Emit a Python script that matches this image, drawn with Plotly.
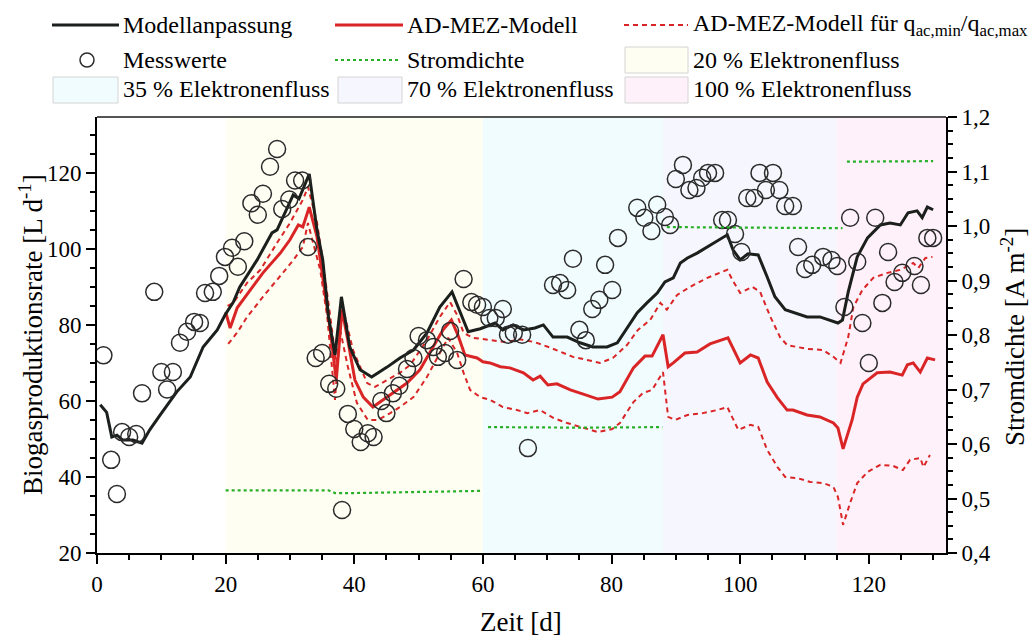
import plotly.graph_objects as go

# ---------------- data ----------------
# measured biogas production rate (Messwerte)
mess_t = [1, 2.2, 3.1, 3.9, 5, 6.1, 7, 8.9, 10, 10.9, 11.8, 12.9, 14, 15.1, 16, 16.8, 18, 19,
          19.9, 21, 21.9, 22.9, 24, 25, 25.8, 26.9, 28, 28.8, 29.9, 30.8, 31.9, 32.8, 34, 35,
          36.1, 37.2, 38.1, 39, 40, 41, 42.1, 43, 44.2, 45, 46, 47, 48.2, 49.2, 50, 51.3, 52.3,
          53, 54.1, 54.9, 56, 57, 58.2, 59.1, 60, 61, 62, 63.1, 63.9, 64.8, 66.1, 67, 70.9, 72,
          73.1, 74, 75, 76, 77, 78.1, 79, 80.1, 81, 84, 85.1, 86.2, 87.1, 88.3, 89.1, 90, 91.1,
          92.1, 93.2, 94.1, 95, 96.1, 97.2, 98.1, 99.2, 100.2, 101.1, 102.2, 103, 104, 105.1,
          106.1, 107, 108.2, 109, 110.1, 111.2, 112.9, 114.2, 115.1, 116.2, 117.1, 118.2, 119,
          120, 121, 122.1, 123, 124, 125.2, 127.1, 128.1, 129.1, 130]
mess_v = [72, 44.5, 35.5, 51.8, 50.5, 51.3, 62, 88.7, 67.6, 63, 67.6, 75.3, 78.2, 80.8, 80.5,
          88.4, 88.7, 92.9, 97.9, 100.3, 95.3, 102, 112, 109, 114.5, 121.6, 126.3, 110.5, 113,
          118, 118, 100.5, 71.3, 72.6, 64.5, 63.2, 31.3, 56.6, 52.6, 49.2, 51.5, 50.5, 60, 56.8,
          62, 64, 68.4, 71.3, 77.1, 76, 74.2, 71.6, 72.6, 78.4, 70.8, 92.1, 86, 85.3, 84.7, 81.8,
          81.8, 84.2, 77.4, 77.9, 77.4, 47.6, 90.5, 91, 89.2, 97.4, 78.7, 76, 84.2, 86.6, 95.8,
          89.2, 102.9, 110.8, 108.2, 104.7, 111.6, 108.4, 106.3, 118.4, 122.1, 115.5, 116, 118.7,
          120, 120, 107.6, 107.6, 103.9, 99.2, 113.4, 113.4, 120, 115.5, 120, 115.5, 111.3, 111.3,
          100.5, 94.7, 95.8, 97.9, 97.1, 95.5, 84.7, 108.2, 96.6, 80.5, 70, 108.2, 85.8, 99.2,
          91.3, 93.7, 95.5, 90.5, 102.9, 102.9]

# fitted model (Modellanpassung)
fit_t = [0.5, 1.5, 2.3, 3.1, 4, 5.6, 7, 8.2, 9.8, 12.4, 14.5, 16.5, 18.7, 19.9, 21.2, 22.2, 24.9,
         27.2, 28, 29.5, 30.5, 31.4, 33, 34.2, 35.1, 36, 37, 38, 39.3, 40.9, 42.7, 45.1, 47.1,
         49.2, 51.3, 53.3, 55.2, 56.5, 57.7, 59.6, 61.9, 63.1, 64.7, 66.3, 68.1, 69.4, 70.9,
         73.1, 75.1, 77.1, 79.3, 80.9, 82.4, 84, 85.5, 87.1, 88.3, 89.6, 90.7, 91.8, 93.3, 95.3,
         98, 98.9, 100, 101.2, 102.8, 104.2, 105.4, 107, 108.2, 110.4, 112.4, 114, 115.2, 115.9,
         116.8, 118.2, 119.8, 121.8, 123.3, 124.9, 126.1, 127.5, 128.3, 129.1, 130]
fit_v = [59, 57, 50.5, 51, 49.7, 49.7, 48.9, 52.4, 56.3, 62.4, 66.3, 74.2, 78.7, 82.6, 86, 90,
         97.1, 104.2, 105, 110.8, 114.2, 113.2, 119.7, 105, 97.1, 82.1, 72.1, 87.4, 74.2, 68.2,
         66.3, 68.9, 71.3, 73.4, 77.9, 84.7, 88.7, 83.2, 78.2, 79, 80.5, 78.7, 80, 78.7, 79.2,
         80, 76.8, 76.8, 75.3, 74.2, 74.2, 75.3, 79.2, 83.2, 85.8, 88.4, 91.3, 92.4, 96.3, 97.6,
         98.9, 101, 103.7, 99.7, 97.1, 98.7, 98.4, 92.6, 87.4, 84, 83.4, 82.1, 82.1, 81.3, 80.5,
         81.3, 88.7, 97.9, 102.9, 106.3, 106.8, 106.3, 109.5, 110, 108.2, 111, 110.3]

# AD-MEZ model
mez_t = [20, 20.7, 21.8, 23.8, 25.8, 28.5, 30, 31.3, 32, 33, 34.2, 35.1, 36.2, 37.2, 38.1, 39,
         40.1, 41.4, 42.9, 44.5, 46.7, 48.2, 50.2, 52.3, 53.8, 55.1, 56.1, 57.2, 59.1, 60, 61.1,
         62.7, 64.2, 66.3, 67.8, 68.9, 70.1, 71.5, 73.6, 75.6, 77.9, 80.1, 81.3, 83.4, 85.2,
         86.3, 88, 88.8, 89.6, 91.4, 93.3, 95.3, 98.1, 100, 101.6, 102.8, 104.2, 105.8, 107.3,
         108.2, 110.4, 112.4, 114.5, 115.2, 116, 117.4, 118.2, 119.1, 121.3, 123.3, 125.2, 126,
         126.9, 128, 129.1, 130.3]
mez_v = [83.4, 79.2, 84.5, 89.2, 93.7, 98.9, 102.4, 106.3, 105.8, 111, 103.2, 92.6, 79.5, 65.5,
         84, 76, 65.5, 61, 58.4, 60.3, 62.9, 64.7, 68.2, 74.2, 78.7, 81.3, 77.4, 72.1, 71.3, 70.3,
         70, 69, 68.7, 67.4, 65.5, 66.5, 64.2, 64.5, 62.9, 61.8, 60.5, 61, 62.4, 68.7, 71.8, 71.8,
         77.4, 69, 70, 72.6, 72.9, 75, 76.6, 70, 72.1, 71.3, 65, 60.8, 57.6, 57.6, 56.3, 55.8,
         54.2, 52.9, 47.4, 55, 61, 64.5, 67.4, 67.6, 66.8, 69.5, 70, 67.6, 71.3, 70.8]

# AD-MEZ model for q_ac,max (upper bound)
qmax_t = [20.3, 21.2, 23.3, 25.4, 28, 30, 32, 32.8, 34.2, 35.1, 36.2, 37.2, 38.2, 39.8, 42, 43.2,
          45.1, 47.1, 48.7, 51.3, 53.3, 54.9, 56, 57, 58.5, 61.1, 63.5, 65.8, 68, 70.5, 72, 74,
          76.2, 78.2, 80.2, 82.4, 84.1, 86, 87.6, 88.6, 90.2, 92.2, 94.9, 98, 98.8, 100, 101.9,
          103.1, 104.7, 106.2, 107.3, 110.4, 112.9, 114.5, 115.6, 116.8, 117.6, 119, 120.7,
          122.9, 124.9, 126.9, 127.7, 128.8, 129.9]
qmax_v = [85, 85.8, 91, 94.5, 101.6, 106.8, 112.9, 116.3, 107, 97, 83, 70, 84.7, 73.4, 64.7,
          63.7, 65.5, 67.4, 69.5, 76, 82.1, 86, 82.6, 77.9, 76.6, 76, 75.5, 76.2, 75.5, 74, 72.9,
          71.6, 70.8, 70, 71.3, 74.7, 78.7, 81.3, 85.8, 84, 87.9, 90, 92.4, 94.5, 91.8, 88.4, 90,
          88.7, 82.1, 76.8, 74.7, 73.7, 73.4, 71.6, 70, 76.8, 84.7, 89.2, 92.4, 93.7, 94.5, 96.3,
          95, 97.6, 97.9]

# AD-MEZ model for q_ac,min (lower bound)
qmin_t = [20.4, 21.8, 23.3, 25.8, 28.9, 30.5, 32, 32.8, 34.7, 35.8, 37, 37.8, 39, 40.4, 42.1,
          43.7, 45.6, 47.1, 49.2, 51.3, 53.3, 54.6, 56, 57, 58, 59.6, 61.1, 63.1, 65.3, 66.9,
          68.9, 71, 73.1, 75.1, 77.9, 80.1, 81.3, 83.4, 84.9, 86.3, 88, 88.8, 89.9, 91.8, 94.2,
          96.4, 98, 99.7, 101.6, 102.8, 104.2, 105.8, 107, 108.9, 110.9, 112.9, 114.5, 115.2,
          116, 117.1, 118.2, 119.8, 121.8, 123.8, 125.3, 126.4, 128, 128.5, 129.5]
qmin_v = [75, 78, 82, 87.4, 93.7, 97, 100.5, 106.8, 94.5, 82.1, 60.3, 78.7, 69, 59.5, 55, 55,
          56.8, 58.4, 61, 66.3, 72.6, 76.6, 72.6, 67.4, 62.9, 61, 60.3, 58.4, 57.6, 56.8, 57.6,
          55.5, 54.2, 53.2, 51.8, 52.6, 54.2, 59.7, 62.1, 62.9, 67.6, 55.8, 55, 56.3, 56.8, 57.6,
          58.4, 52.4, 53.7, 53.2, 47.1, 42.6, 40, 39.7, 38.7, 38.4, 37.4, 34.7, 27.4, 33.2, 38.4,
          41.3, 43.2, 42.9, 41.8, 44.5, 45, 42.6, 45.8]

# current density (Stromdichte), one segment per electron-flow phase
strom_t = [20, 36, 37, 40, 50, 60, None, 60.8, 75, 87.9, None, 88.6, 100, 115.9, None,
           116.6, 125, 130]
strom_v = [0.515, 0.515, 0.51, 0.51, 0.512, 0.514, None, 0.631, 0.63, 0.631, None, 0.998,
           0.997, 0.996, None, 1.118, 1.119, 1.119]

# electron-flow phases
phase_labels = ["20 % Elektronenfluss", "35 % Elektronenfluss",
                "70 % Elektronenfluss", "100 % Elektronenfluss"]
phase_start = [20, 60, 88, 115]
phase_end = [60, 88, 115, 132]
phase_colors = ["#FEFEF3", "#F1FCFE", "#F6F7FE", "#FEF1FA"]

# ---------------- styling ----------------
FONT = "Liberation Serif"
BLACK_LINE = "#1b201d"
RED = "#DA2527"
GREEN = "#27B027"
W, H = 1034, 639
L, R, T, B = 97, 946, 117, 553


def px(xp):
    return (xp - L) / (R - L)


def py(yp):
    return (B - yp) / (B - T)


fig = go.Figure()

fig.add_trace(go.Scatter(x=strom_t, y=strom_v, mode="lines", yaxis="y2",
                         line=dict(color=GREEN, width=2.2, dash="dot"),
                         connectgaps=False, name="Stromdichte"))
fig.add_trace(go.Scatter(x=qmax_t, y=qmax_v, mode="lines",
                         line=dict(color=RED, width=2, dash="5px,4px"),
                         name="AD-MEZ-Modell (q_ac,max)"))
fig.add_trace(go.Scatter(x=qmin_t, y=qmin_v, mode="lines",
                         line=dict(color=RED, width=2, dash="5px,4px"),
                         name="AD-MEZ-Modell (q_ac,min)"))
fig.add_trace(go.Scatter(x=mez_t, y=mez_v, mode="lines",
                         line=dict(color=RED, width=3), name="AD-MEZ-Modell"))
fig.add_trace(go.Scatter(x=fit_t, y=fit_v, mode="lines",
                         line=dict(color=BLACK_LINE, width=3), name="Modellanpassung"))
fig.add_trace(go.Scatter(x=mess_t, y=mess_v, mode="markers",
                         marker=dict(symbol="circle-open", size=17,
                                     line=dict(color="#2b2b2b", width=1.5),
                                     color="#2b2b2b"),
                         name="Messwerte"))

shapes = []
for x0, x1, c in zip(phase_start, phase_end, phase_colors):
    shapes.append(dict(type="rect", xref="x", yref="paper", x0=x0, x1=x1, y0=0, y1=1,
                       fillcolor=c, line=dict(width=0), layer="below"))

# grey frame line along the top of the plot area
shapes.append(dict(type="line", xref="paper", yref="paper", x0=0, x1=1, y0=1, y1=1,
                   line=dict(color="#555555", width=2)))

# ---------------- legend (drawn in paper coordinates) ----------------
annotations = []
leg_font = dict(family=FONT, size=24, color="black")


def leg_text(xp, yp, text):
    annotations.append(dict(x=px(xp), y=py(yp), xref="paper", yref="paper", text=text,
                            showarrow=False, xanchor="left", yanchor="middle", font=leg_font))


def leg_line(x0, x1, yp, color, width, dash="solid"):
    shapes.append(dict(type="line", xref="paper", yref="paper", x0=px(x0), x1=px(x1),
                       y0=py(yp), y1=py(yp), line=dict(color=color, width=width, dash=dash)))


def leg_box(x0, x1, y0, y1, color):
    shapes.append(dict(type="rect", xref="paper", yref="paper", x0=px(x0), x1=px(x1),
                       y0=py(y1), y1=py(y0), fillcolor=color,
                       line=dict(color="#d4d4d4", width=1)))


r1, r2, r3 = 25, 60, 89
leg_line(52, 119, r1, BLACK_LINE, 3)
leg_text(121, r1, "Modellanpassung")
leg_line(335, 403, r1, RED, 3)
leg_text(405, r1, "AD-MEZ-Modell")
leg_line(624, 688, r1, RED, 2, "5px,4px")
leg_text(691, r1, "AD-MEZ-Modell für q<sub>ac,min</sub>/q<sub>ac,max</sub>")

shapes.append(dict(type="circle", xref="paper", yref="paper", x0=px(80), x1=px(94),
                   y0=py(67), y1=py(53), line=dict(color="#2b2b2b", width=1.5)))
leg_text(121, r2, "Messwerte")
leg_line(335, 400, r2, GREEN, 2.2, "dot")
leg_text(405, r2, "Stromdichte")
leg_box(625, 688, 47, 73, phase_colors[0])
leg_text(691, r2, phase_labels[0])

leg_box(53, 118, 77, 103, phase_colors[1])
leg_text(121, r3, phase_labels[1])
leg_box(338, 402, 77, 103, phase_colors[2])
leg_text(405, r3, phase_labels[2])
leg_box(625, 688, 77, 103, phase_colors[3])
leg_text(691, r3, phase_labels[3])

# axis titles
title_font = dict(family=FONT, size=27, color="black")
annotations.append(dict(x=px(31), y=py(335), xref="paper", yref="paper",
                        text="Biogasproduktionsrate [L d<sup>-1</sup>]", textangle=-90,
                        showarrow=False, xanchor="center", yanchor="middle", font=title_font))
annotations.append(dict(x=px(1013), y=py(337), xref="paper", yref="paper",
                        text="Stromdichte [A m<sup>-2</sup>]", textangle=-90,
                        showarrow=False, xanchor="center", yanchor="middle", font=title_font))
annotations.append(dict(x=px(521), y=py(622), xref="paper", yref="paper",
                        text="Zeit [d]", showarrow=False, xanchor="center",
                        yanchor="middle", font=title_font))

tick_font = dict(family=FONT, size=23, color="black")
axis_common = dict(showgrid=False, zeroline=False, showline=True, linecolor="black",
                   linewidth=2, ticks="outside", ticklen=9, tickwidth=2, tickcolor="black",
                   tickfont=tick_font)

fig.update_layout(
    width=W, height=H,
    margin=dict(l=L, r=W - R, t=T, b=H - B, pad=0),
    paper_bgcolor="white", plot_bgcolor="white",
    showlegend=False,
    separators=",.",
    shapes=shapes,
    annotations=annotations,
    xaxis=dict(range=[0, 132], dtick=20, tick0=0,
               minor=dict(dtick=5, ticklen=5, tickwidth=2, tickcolor="black", ticks="outside"),
               **axis_common),
    yaxis=dict(range=[20, 134.7], dtick=20, tick0=20,
               minor=dict(dtick=5, ticklen=5, tickwidth=2, tickcolor="black", ticks="outside"),
               **axis_common),
    yaxis2=dict(range=[0.4, 1.2], dtick=0.1, tick0=0.4, tickformat=".1f", overlaying="y",
                side="right",
                minor=dict(dtick=0.025, ticklen=5, tickwidth=2, tickcolor="black",
                           ticks="outside"),
                **axis_common),
)

fig.write_html("out.html")
